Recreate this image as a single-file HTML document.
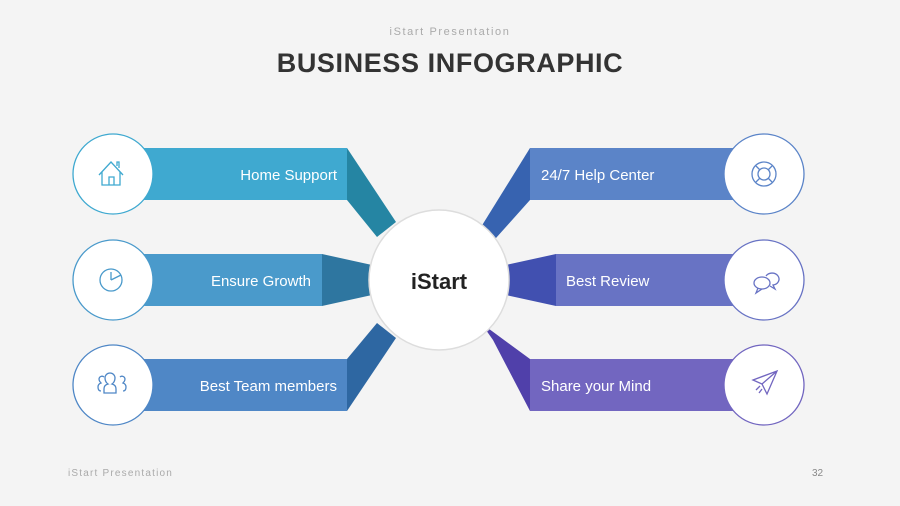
<!DOCTYPE html>
<html><head><meta charset="utf-8"><style>
body{margin:0;width:900px;height:506px;background:#f4f4f4;overflow:hidden;font-family:"Liberation Sans",sans-serif;position:relative}
.t{position:absolute;white-space:nowrap}
</style></head><body>
<div class="t" style="left:0;width:900px;top:26px;text-align:center;font-size:11px;letter-spacing:1.6px;color:#aaa">iStart Presentation</div>
<div class="t" style="left:0;width:900px;top:48px;text-align:center;font-size:27px;font-weight:bold;letter-spacing:0.6px;color:#333">BUSINESS INFOGRAPHIC</div>
<div class="t" style="left:68px;top:468px;font-size:10px;letter-spacing:1.2px;color:#aaa">iStart Presentation</div>
<div class="t" style="left:812px;top:468px;font-size:10px;color:#888">32</div>
<svg width="900" height="506" style="position:absolute;left:0;top:0" font-family="Liberation Sans, sans-serif">
<polygon points="347,148 396,222 377,237 347,200" fill="#2585a3"/>
<rect x="120" y="148" width="227" height="52" fill="#3fa9d0"/>
<polygon points="322,254 372,265 372,295 322,306" fill="#2e76a0"/>
<rect x="120" y="254" width="202" height="52" fill="#4a9acb"/>
<polygon points="347,359 377,323 396,338 347,411" fill="#2e67a2"/>
<rect x="120" y="359" width="227" height="52" fill="#4f87c6"/>
<polygon points="530,148 481,227 496,238 530,200" fill="#3763b0"/>
<rect x="530" y="148" width="240" height="52" fill="#5b84c8"/>
<polygon points="556,254 506,265 506,295 556,306" fill="#4150b0"/>
<rect x="556" y="254" width="214" height="52" fill="#6873c4"/>
<polygon points="530,359 481,323 493,340 530,411" fill="#5040aa"/>
<rect x="530" y="359" width="240" height="52" fill="#7266c0"/>
<circle cx="439" cy="280" r="70" fill="#fff" stroke="#ddd" stroke-width="1.5"/>
<text x="439" y="289" text-anchor="middle" font-size="22" font-weight="bold" fill="#222">iStart</text>
<g fill="#fff" stroke-width="1.3">
<circle cx="113" cy="174" r="40" stroke="#3fa9d0"/>
<circle cx="113" cy="280" r="40" stroke="#4a9acb"/>
<circle cx="113" cy="385" r="40" stroke="#4f87c6"/>
<circle cx="764" cy="174" r="40" stroke="#5b84c8"/>
<circle cx="764" cy="280" r="40" stroke="#6873c4"/>
<circle cx="764" cy="385" r="40" stroke="#7266c0"/>
</g>
<g font-size="15" fill="#fff">
<text x="337" y="180" text-anchor="end">Home Support</text>
<text x="311" y="286" text-anchor="end">Ensure Growth</text>
<text x="337" y="391" text-anchor="end">Best Team members</text>
<text x="541" y="180">24/7 Help Center</text>
<text x="566" y="286">Best Review</text>
<text x="541" y="391">Share your Mind</text>
</g>
<g fill="none" stroke-width="1.3">
<g stroke="#3fa9d0"><path d="M99 175 L111 162 L123 175 M102 172 V185 H120 V172 M109 185 V177 H114 V185 M117 166 V162 H119 V168"/></g>
<g stroke="#4a9acb"><circle cx="111" cy="280" r="11"/><path d="M111 280 L121 275 M111 280 L111 272"/></g>
<g stroke="#4f87c6"><path d="M104 393 v-4 q0 -4 4 -5 q-3 -2 -3 -6 a5 5 0 0 1 10 0 q0 4 -3 6 q4 1 4 5 v4 z M101 391 q-3 0 -3 -4 q0 -3 3 -4 q-2 -2 -2 -4 a3 3 0 0 1 5 -2 M123 391 q3 0 3 -4 q0 -3 -3 -4 q2 -2 2 -4 a3 3 0 0 0 -5 -2"/></g>
<g stroke="#5b84c8"><circle cx="764" cy="174" r="12"/><circle cx="764" cy="174" r="6"/><path d="M756 166 L760 170 M772 166 L768 170 M756 182 L760 178 M772 182 L768 178"/></g>
<g stroke="#6873c4"><ellipse cx="762" cy="283" rx="8" ry="6"/><path d="M758 288 L756 293 L762 289 M766 276 a7 6 0 1 1 7 9 l2 4 -5 -3"/></g>
<g stroke="#7266c0"><path d="M753 380 L777 371 L767 394 L762 384 Z M762 384 L777 371 M756 390 L760 386 M759 393 L762 389"/></g>
</g>
</svg>
</body></html>
